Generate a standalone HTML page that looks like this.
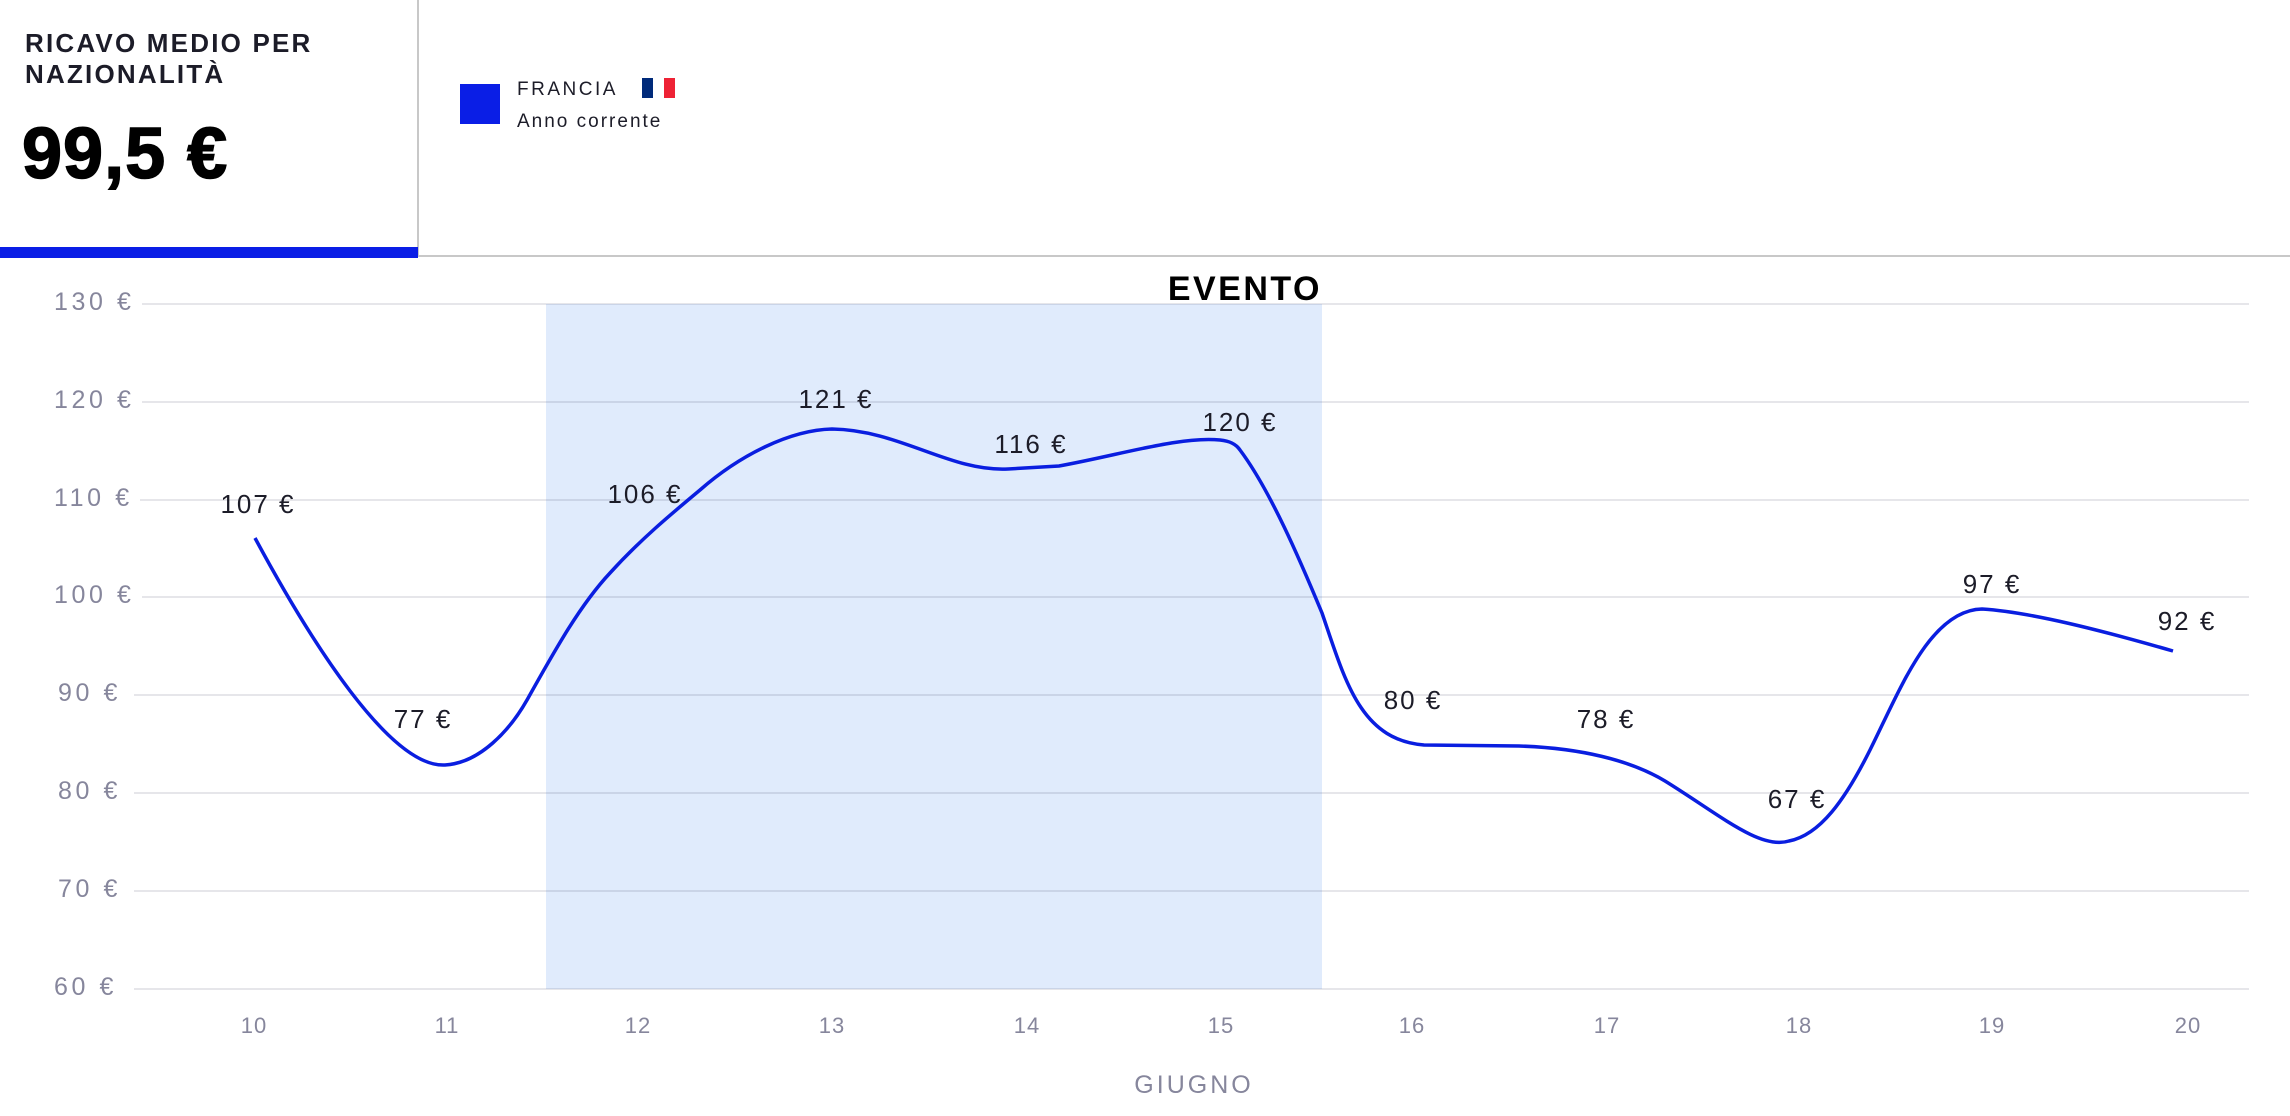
<!DOCTYPE html>
<html><head><meta charset="utf-8"><style>
html,body{margin:0;padding:0;background:#fff;}
body{width:2290px;height:1116px;position:relative;overflow:hidden;font-family:"Liberation Sans",sans-serif;}
</style></head><body>
<svg width="2290" height="1116" viewBox="0 0 2290 1116" xmlns="http://www.w3.org/2000/svg" style="position:absolute;left:0;top:0;font-family:'Liberation Sans',sans-serif">
<text x="25" y="52" font-size="26" font-weight="bold" fill="#1c1c28" letter-spacing="2.2">RICAVO MEDIO PER</text>
<text x="25" y="83" font-size="26" font-weight="bold" fill="#1c1c28" letter-spacing="2.2">NAZIONALITÀ</text>
<text x="22" y="178" font-size="72" font-weight="bold" fill="#000" stroke="#000" stroke-width="1.5" letter-spacing="1">99,5 €</text>
<rect x="417" y="0" width="2" height="256" fill="#c8c8c8"/>
<rect x="418" y="255" width="1872" height="2" fill="#c8c8c8"/>
<rect x="0" y="247" width="418" height="11" fill="#0a1ee6"/>
<rect x="460" y="84" width="40" height="40" fill="#0a1ee6"/>
<text x="517" y="95" font-size="19" fill="#1c1c28" letter-spacing="2.5">FRANCIA</text>
<rect x="642" y="78" width="11" height="20" fill="#002a7a"/>
<rect x="653" y="78" width="11" height="20" fill="#fff"/>
<rect x="664" y="78" width="11" height="20" fill="#ee2235"/>
<text x="517" y="127" font-size="19" fill="#1c1c28" letter-spacing="2">Anno corrente</text>
<rect x="546" y="304" width="776" height="685" fill="#e0ebfc"/>
<text x="1322" y="300" font-size="34" font-weight="bold" fill="#000" text-anchor="end" letter-spacing="2.5">EVENTO</text>
<g stroke="#1c1c40" stroke-opacity="0.11" stroke-width="2">
<line x1="142" y1="304" x2="2249" y2="304"/>
<line x1="142" y1="402" x2="2249" y2="402"/>
<line x1="140" y1="500" x2="2249" y2="500"/>
<line x1="142" y1="597" x2="2249" y2="597"/>
<line x1="134" y1="695" x2="2249" y2="695"/>
<line x1="134" y1="793" x2="2249" y2="793"/>
<line x1="134" y1="891" x2="2249" y2="891"/>
<line x1="134" y1="989" x2="2249" y2="989"/>
</g>
<g font-size="25" fill="#86869c" letter-spacing="3.6">
<text x="54" y="310">130 €</text>
<text x="54" y="408">120 €</text>
<text x="54" y="506">110 €</text>
<text x="54" y="603">100 €</text>
<text x="58" y="701">90 €</text>
<text x="58" y="799">80 €</text>
<text x="58" y="897">70 €</text>
<text x="54" y="995">60 €</text>
</g>
<g font-size="22" fill="#86869c" text-anchor="middle" letter-spacing="1">
<text x="254" y="1033">10</text><text x="447" y="1033">11</text><text x="638" y="1033">12</text>
<text x="832" y="1033">13</text><text x="1027" y="1033">14</text><text x="1221" y="1033">15</text>
<text x="1412" y="1033">16</text><text x="1607" y="1033">17</text><text x="1799" y="1033">18</text>
<text x="1992" y="1033">19</text><text x="2188" y="1033">20</text>
</g>
<text x="1194" y="1093" font-size="25" fill="#86869c" text-anchor="middle" letter-spacing="3">GIUGNO</text>
<path d="M255,538 C310,640 390,768 445,765 C480,763 510,730 527,700 C555,650 580,605 610,573 C640,540 670,515 700,490 C740,455 790,430 832,429 C900,430 950,472 1008,469 L1059,466 C1120,455 1180,436 1220,440 C1230,441 1236,444 1240,450 C1270,490 1300,560 1322,613 C1345,680 1360,740 1424,745 L1519,746 C1580,748 1630,760 1665,781 C1720,815 1760,850 1789,841 C1820,835 1845,800 1870,750 C1900,690 1930,610 1982,609 C2030,612 2100,630 2173,651" fill="none" stroke="#0a1ee0" stroke-width="3.5"/>
<g font-size="26" fill="#1c1c28" text-anchor="middle" letter-spacing="2">
<text x="258" y="513">107 €</text>
<text x="423" y="728">77 €</text>
<text x="645" y="503">106 €</text>
<text x="836" y="408">121 €</text>
<text x="1031" y="453">116 €</text>
<text x="1240" y="431">120 €</text>
<text x="1413" y="709">80 €</text>
<text x="1606" y="728">78 €</text>
<text x="1797" y="808">67 €</text>
<text x="1992" y="593">97 €</text>
<text x="2187" y="630">92 €</text>
</g>
</svg>
</body></html>
